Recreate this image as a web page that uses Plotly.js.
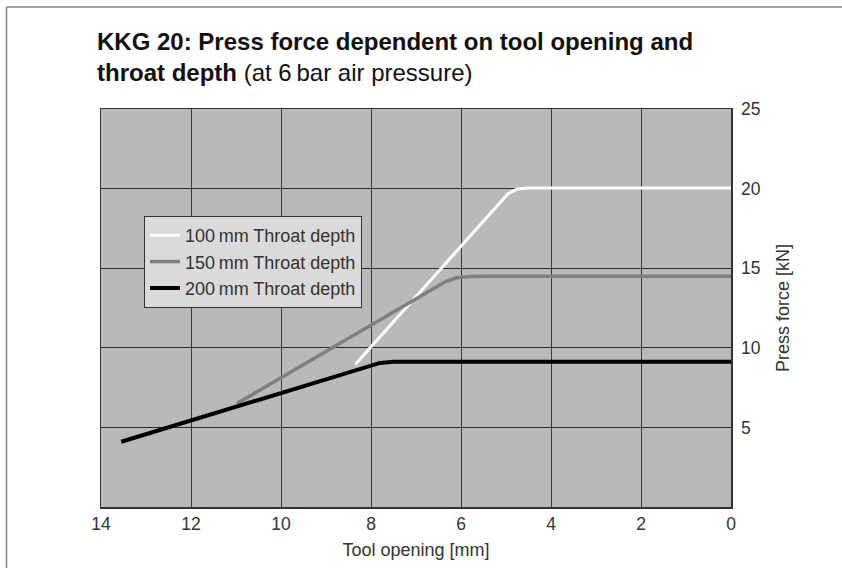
<!DOCTYPE html>
<html>
<head>
<meta charset="utf-8">
<script src="https://cdn.plot.ly/plotly-3.0.1.min.js"></script>
<style>
  html, body { margin: 0; padding: 0; background: #fff; }
  #chart { width: 842px; height: 568px; }
</style>
</head>
<body>
<div id="chart"></div>
<script>
// Tool opening [mm] and press force [kN]
var opening100 = [8.35, 4.95, 4.75, 4.5, 4.2, 0];
var force100   = [8.95, 19.7, 19.97, 20.03, 20.04, 20.04];

var opening150 = [10.98, 6.35, 6.1, 5.8, 5.4, 0];
var force150   = [6.5, 14.15, 14.4, 14.48, 14.5, 14.5];

var opening200 = [13.55, 8.05, 7.8, 7.5, 7.0, 0];
var force200   = [4.1, 8.88, 9.05, 9.12, 9.13, 9.13];

var seriesNames = ['100\u2009mm Throat depth', '150\u2009mm Throat depth', '200\u2009mm Throat depth'];
var xTicks = [14, 12, 10, 8, 6, 4, 2, 0];
var yTicks = [5, 10, 15, 20, 25];

var FONT = '"Liberation Sans", Arial, Helvetica, sans-serif';

var traces = [
  { x: opening100, y: force100, name: seriesNames[0], mode: 'lines',
    line: { color: '#ffffff', width: 3 } },
  { x: opening150, y: force150, name: seriesNames[1], mode: 'lines',
    line: { color: '#7f7f7f', width: 3.5 } },
  { x: opening200, y: force200, name: seriesNames[2], mode: 'lines',
    line: { color: '#000000', width: 4 } }
];

var layout = {
  width: 842,
  height: 568,
  margin: { l: 101, r: 111, t: 109, b: 61, pad: 0 },
  paper_bgcolor: '#ffffff',
  plot_bgcolor: '#b9b9b9',
  font: { family: FONT, size: 17, color: '#333333' },
  title: {
    text: '<b>KKG 20: Press force dependent on tool opening and</b><br><b>throat depth</b> (at 6\u2009bar air pressure)',
    font: { family: FONT, size: 24, color: '#111111' },
    xref: 'container', yref: 'container',
    x: 97 / 842, xanchor: 'left',
    y: 1 - 50 / 568, yanchor: 'top'
  },
  xaxis: {
    range: [14, 0],
    tickvals: xTicks,
    ticktext: xTicks.map(String),
    ticks: '',
    showgrid: true, gridcolor: '#3a3a3a', gridwidth: 1,
    zeroline: false,
    showline: true, linecolor: '#333333', linewidth: 1.5, mirror: true,
    tickfont: { family: FONT, size: 17.5, color: '#333333' },
    title: { text: 'Tool opening [mm]', standoff: 11,
             font: { family: FONT, size: 18, color: '#333333' } },
    fixedrange: true
  },
  yaxis: {
    range: [0, 25],
    side: 'right',
    tickvals: yTicks,
    ticktext: yTicks.map(String),
    ticks: '',
    showgrid: true, gridcolor: '#2a2a2a', gridwidth: 1,
    zeroline: false,
    showline: true, linecolor: '#333333', linewidth: 1.5, mirror: true,
    tickfont: { family: FONT, size: 17.5, color: '#333333' },
    ticklabelstandoff: 5,
    title: { text: 'Press force [kN]', standoff: 16,
             font: { family: FONT, size: 18, color: '#333333' } },
    fixedrange: true
  },
  showlegend: true,
  legend: {
    x: (144 - 101) / 630, xanchor: 'left',
    y: (507 - 216) / 398, yanchor: 'top',
    bgcolor: '#dadada',
    bordercolor: '#333333', borderwidth: 1,
    font: { family: FONT, size: 18, color: '#333333' },
    tracegroupgap: 0
  },
  shapes: [
    { type: 'line', xref: 'paper', yref: 'paper',
      x0: (6.5 - 101) / 630, x1: (842 - 101) / 630,
      y0: (507 - 7) / 398, y1: (507 - 7) / 398,
      line: { color: '#808080', width: 1.5 } },
    { type: 'line', xref: 'paper', yref: 'paper',
      x0: (6.5 - 101) / 630, x1: (6.5 - 101) / 630,
      y0: (507 - 568) / 398, y1: (507 - 7) / 398,
      line: { color: '#808080', width: 1.5 } }
  ]
};

Plotly.newPlot('chart', traces, layout, { displayModeBar: false, staticPlot: true });
</script>
</body>
</html>
